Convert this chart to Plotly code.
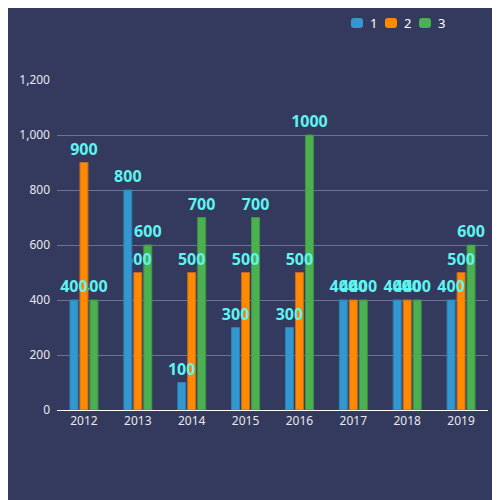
import plotly.graph_objects as go

# Data
years = ["2012", "2013", "2014", "2015", "2016", "2017", "2018", "2019"]
series_names = ["1", "2", "3"]
values_1 = [400, 800, 100, 300, 300, 400, 400, 400]
values_2 = [900, 500, 500, 500, 500, 400, 400, 500]
values_3 = [400, 600, 700, 700, 1000, 400, 400, 600]
y_ticks = [0, 200, 400, 600, 800, 1000, 1200]

bar_colors = ["#3398d0", "#ff8a00", "#4cb050"]
edge_colors = ["#2c7fb0", "#c2692a", "#3f9444"]
bg = "#333a5e"
label_color = "#5ef4f0"

# figure and plot area in pixels (page adds an 8px margin)
W, H = 500, 500
L, T = 49, 72
PW, PH = 431, 330
R, B = W - L - PW, H - T - PH

# bar geometry: 8px bars, 10px apart, in a 431/8 px category
cat_px = PW / len(years)
bar_w = 8 / cat_px
centers = [-10 / cat_px, 0, 10 / cat_px]

series = list(zip(series_names, [values_1, values_2, values_3], bar_colors, edge_colors, centers))

fig = go.Figure()
# drawn last series first, so earlier bars sit on top of later labels (as in the original)
for name, vals, col, edge, c in reversed(series):
    fig.add_trace(go.Bar(
        x=years,
        y=vals,
        name=name,
        width=bar_w,
        offset=c - bar_w / 2,
        marker=dict(color=col, line=dict(color=edge, width=1)),
        text=[str(v) for v in vals],
        textposition="outside",
        constraintext="none",
        cliponaxis=False,
        textfont=dict(color=label_color, size=16, family="Noto Sans", weight="bold"),
        showlegend=False,
    ))

# legend drawn by hand: small rounded squares with the series names
shapes = []
annotations = []
for i, (name, col) in enumerate(zip(series_names, bar_colors)):
    cx = 349 + 34 * i
    shapes.append(dict(
        type="path", xref="paper", yref="paper",
        xsizemode="pixel", ysizemode="pixel",
        xanchor=(cx - L) / PW, yanchor=1 + (T - 15) / PH,
        path="M-3,-5 L3,-5 Q6,-5 6,-2 L6,2 Q6,5 3,5 L-3,5 Q-6,5 -6,2 L-6,-2 Q-6,-5 -3,-5 Z",
        fillcolor=col, line=dict(width=0),
    ))
    annotations.append(dict(
        text=name, xref="paper", yref="paper",
        x=(cx + 11 - L) / PW, y=1 + (T - 15) / PH,
        xanchor="left", yanchor="middle", showarrow=False,
        font=dict(size=13, color="#ffffff"),
    ))

fig.update_layout(
    width=W,
    height=H,
    barmode="overlay",
    paper_bgcolor=bg,
    plot_bgcolor=bg,
    margin=dict(l=L, r=R, t=T, b=B),
    font=dict(family="Noto Sans", color="#e8e8ee", size=12),
    showlegend=False,
    shapes=shapes,
    annotations=annotations,
)

fig.update_xaxes(
    showgrid=False,
    showline=True,
    linecolor="#ffffff",
    linewidth=1,
    ticks="",
    tickfont=dict(size=12, color="#e8e8ee"),
)
fig.update_yaxes(
    range=[0, 1200],
    tickvals=y_ticks,
    tickformat=",",
    showgrid=True,
    gridcolor="#6d7290",
    gridwidth=1,
    zeroline=False,
    showline=False,
    ticklabelstandoff=6,
    tickfont=dict(size=12, color="#e8e8ee"),
)

fig.write_html("out.html")
